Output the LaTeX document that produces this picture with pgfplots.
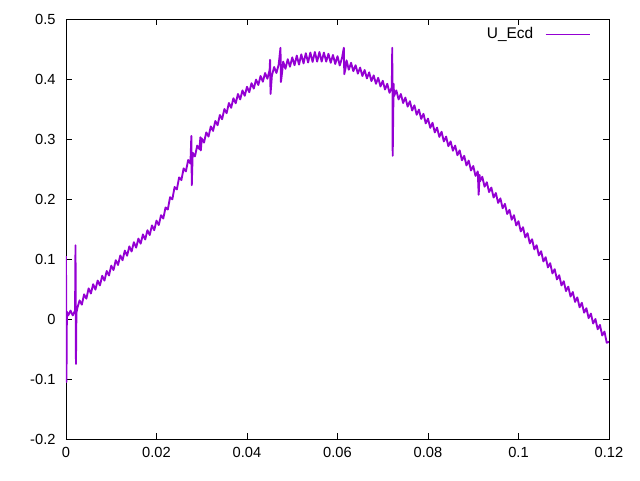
\documentclass[border=0pt]{standalone}
\usepackage{fontspec}
\setmainfont{Liberation Sans}
\usepackage{pgfplots}
\pgfplotsset{compat=1.18}
\definecolor{gpviolet}{RGB}{148,0,211}
\begin{document}
\fontsize{11pt}{13pt}\selectfont
\begin{tikzpicture}
\path[use as bounding box] (-49.5pt,-30.75pt) rectangle (430.5pt,329.25pt);
\begin{axis}[
  anchor=south west, at={(0pt,0pt)},
  scale only axis, width=407.25pt, height=315pt,
  xmin=0, xmax=0.12, ymin=-0.2, ymax=0.5,
  xtick={0,0.02,0.04,0.06,0.08,0.1,0.12},
  ytick={-0.2,-0.1,0,0.1,0.2,0.3,0.4,0.5},
  xticklabels={0,0.02,0.04,0.06,0.08,0.1,0.12},
  yticklabels={-0.2,-0.1,0,0.1,0.2,0.3,0.4,0.5},
  scaled ticks=false,
  tick align=inside, major tick length=4.5pt,
  tick style={black, line width=0.6pt},
  axis line style={black, line width=0.6pt},
  xticklabel style={font=\fontsize{11pt}{13pt}\selectfont, yshift=-2pt},
  yticklabel style={font=\fontsize{11pt}{13pt}\selectfont, xshift=-4pt},
  legend plot pos=right,
  legend style={at={(1,1)}, anchor=north east, xshift=-11pt, yshift=-2pt, draw=none, fill=none, font=\fontsize{11.6pt}{13pt}\selectfont, column sep=7pt},
  legend image code/.code={\draw[gpviolet, line width=0.6pt] (0pt,0pt) -- (33pt,0pt);},
]
\addplot[gpviolet, line width=1.4pt, line join=round] table {
0.0000 0.105
0.0001 -0.105
0.0002 0.012
0.0005 0.006
0.0010 0.014
0.0015 0.006
0.0020 0.014
0.0021 0.123
0.0022 -0.075
0.0023 0.010
0.0025 0.018
0.0030 0.031
0.0035 0.024
0.0040 0.041
0.0045 0.034
0.0050 0.051
0.0055 0.0425
0.0060 0.058
0.0065 0.049
0.0070 0.064
0.0075 0.056
0.0080 0.072
0.0085 0.064
0.0090 0.080
0.0095 0.0725
0.0100 0.089
0.0105 0.0815
0.0110 0.098
0.0115 0.090
0.0120 0.106
0.0125 0.098
0.0130 0.114
0.0135 0.1055
0.0140 0.121
0.0145 0.1125
0.0150 0.128
0.0155 0.119
0.0160 0.134
0.0165 0.1255
0.0170 0.141
0.0175 0.1325
0.0180 0.148
0.0185 0.140
0.0190 0.156
0.0195 0.148
0.0200 0.164
0.0205 0.1565
0.0210 0.173
0.0215 0.1675
0.0220 0.186
0.0225 0.1825
0.0230 0.203
0.0235 0.1995
0.0240 0.220
0.0245 0.216
0.0250 0.236
0.0255 0.2315
0.0260 0.251
0.0265 0.246
0.0270 0.265
0.0275 0.259
0.0277 0.305
0.0278 0.223
0.0280 0.277
0.0285 0.271
0.0290 0.289
0.0295 0.283
0.0297 0.303
0.0298 0.281
0.0300 0.301
0.0305 0.294
0.0310 0.311
0.0315 0.304
0.0320 0.321
0.0325 0.3135
0.0330 0.330
0.0335 0.323
0.0340 0.340
0.0345 0.333
0.0350 0.350
0.0355 0.343
0.0360 0.360
0.0365 0.352
0.0370 0.368
0.0375 0.3595
0.0380 0.375
0.0385 0.366
0.0390 0.381
0.0395 0.372
0.0400 0.387
0.0405 0.378
0.0410 0.393
0.0415 0.384
0.0420 0.399
0.0425 0.390
0.0430 0.405
0.0435 0.3955
0.0440 0.410
0.0445 0.4005
0.0450 0.415
0.0451 0.432
0.0452 0.375
0.0455 0.4055
0.0460 0.420
0.0465 0.410
0.0470 0.424
0.0474 0.452
0.0475 0.395
0.0478 0.414
0.0480 0.429
0.0485 0.417
0.0490 0.433
0.0495 0.4205
0.0500 0.436
0.0505 0.423
0.0510 0.439
0.0515 0.424
0.0520 0.441
0.0525 0.426
0.0530 0.443
0.0535 0.4275
0.0540 0.444
0.0545 0.4285
0.0550 0.445
0.0555 0.429
0.0560 0.445
0.0565 0.429
0.0570 0.444
0.0575 0.429
0.0580 0.442
0.0585 0.427
0.0590 0.440
0.0595 0.425
0.0600 0.438
0.0605 0.4225
0.0610 0.435
0.0614 0.452
0.0615 0.408
0.0618 0.419
0.0620 0.431
0.0625 0.4155
0.0630 0.427
0.0635 0.413
0.0640 0.423
0.0645 0.409
0.0650 0.419
0.0655 0.405
0.0660 0.415
0.0665 0.401
0.0670 0.411
0.0675 0.3965
0.0680 0.406
0.0685 0.392
0.0690 0.402
0.0695 0.3875
0.0700 0.397
0.0705 0.3825
0.0710 0.392
0.0715 0.377
0.0720 0.386
0.0721 0.452
0.0722 0.272
0.0724 0.392
0.0725 0.3715
0.0730 0.381
0.0735 0.366
0.0740 0.375
0.0745 0.360
0.0750 0.369
0.0755 0.354
0.0760 0.363
0.0765 0.3475
0.0770 0.356
0.0775 0.3405
0.0780 0.349
0.0785 0.3335
0.0790 0.342
0.0795 0.326
0.0800 0.334
0.0805 0.3185
0.0810 0.327
0.0815 0.311
0.0820 0.319
0.0825 0.3035
0.0830 0.312
0.0835 0.296
0.0840 0.304
0.0845 0.288
0.0850 0.296
0.0855 0.2805
0.0860 0.289
0.0865 0.273
0.0870 0.281
0.0875 0.2645
0.0880 0.272
0.0885 0.256
0.0890 0.264
0.0895 0.2475
0.0900 0.255
0.0905 0.2385
0.0910 0.246
0.0912 0.207
0.0914 0.240
0.0915 0.2295
0.0920 0.237
0.0925 0.2205
0.0930 0.228
0.0935 0.2115
0.0940 0.219
0.0945 0.2025
0.0950 0.210
0.0955 0.1935
0.0960 0.201
0.0965 0.1845
0.0970 0.192
0.0975 0.175
0.0980 0.182
0.0985 0.1655
0.0990 0.173
0.0995 0.156
0.1000 0.163
0.1005 0.146
0.1010 0.153
0.1015 0.136
0.1020 0.143
0.1025 0.126
0.1030 0.133
0.1035 0.116
0.1040 0.123
0.1045 0.106
0.1050 0.113
0.1055 0.096
0.1060 0.103
0.1065 0.086
0.1070 0.093
0.1075 0.076
0.1080 0.083
0.1085 0.066
0.1090 0.073
0.1095 0.056
0.1100 0.063
0.1105 0.0465
0.1110 0.054
0.1115 0.0375
0.1120 0.045
0.1125 0.0285
0.1130 0.036
0.1135 0.0195
0.1140 0.027
0.1145 0.0105
0.1150 0.018
0.1155 0.0015
0.1160 0.009
0.1165 -0.0075
0.1170 0.000
0.1175 -0.017
0.1180 -0.010
0.1185 -0.0275
0.1190 -0.021
0.1195 -0.0395
0.1200 -0.038
};
\addlegendentry{U\_Ecd}
\end{axis}
\end{tikzpicture}
\end{document}
